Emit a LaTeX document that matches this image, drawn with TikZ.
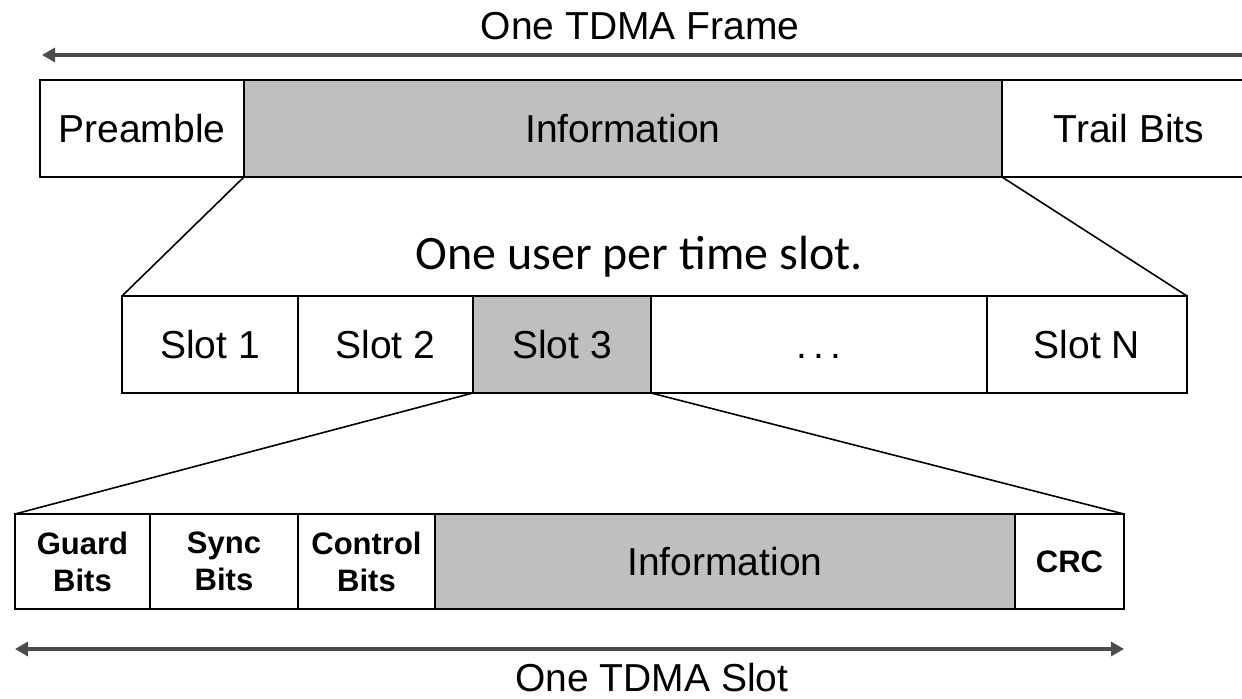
\documentclass[tikz,border=0pt]{standalone}
\usepackage{fontspec}
\setmainfont{Liberation Sans}
\newfontfamily\calibrifont{Carlito}
\usetikzlibrary{arrows.meta,shapes}

\begin{document}
\begin{tikzpicture}[x=0.5pt,y=-0.5pt]
                \tikzstyle{field}=[draw=black, line width=1pt, outer sep=0pt, inner sep=0pt, anchor=west, font=\fontsize{19.5}{22}\selectfont]
                \tikzstyle{shaded}=[field, fill=black!25]
                \tikzstyle{small}=[field, align=center, font=\fontsize{15.5}{18.5}\selectfont\bfseries]
                \tikzstyle{zoomline}=[line width=0.8pt]
                \tikzstyle{spanarrow}=[line width=1.6pt, draw=black!70, {Triangle[length=6.5pt,width=7pt]}-{Triangle[length=6.5pt,width=7pt]}]
                \useasboundingbox (0,0) rectangle (1242,699);

                % frame
                \node[field, minimum width=102pt, minimum height=48.5pt] (pre) at (40,128.5) {Preamble};
                \node[shaded, minimum width=379pt, minimum height=48.5pt] (info) at (pre.east) {Information};
                \node[field, minimum width=127pt, minimum height=48.5pt] (trail) at (info.east) {Trail Bits};

                % slots
                \node[field, minimum width=88pt, minimum height=48.5pt] (s1) at (122,344.5) {Slot 1};
                \node[field, minimum width=87.5pt, minimum height=48.5pt] (s2) at (s1.east) {Slot 2};
                \node[shaded, minimum width=89pt, minimum height=48.5pt] (s3) at (s2.east) {Slot 3};
                \node[field, minimum width=168pt, minimum height=48.5pt] (sdots) at (s3.east) {\vphantom{Slot}.\hspace{3pt}.\hspace{3pt}.};
                \node[field, minimum width=100pt, minimum height=48.5pt] (sN) at (sdots.east) {Slot N};

                % one slot
                \node[small, minimum width=67.5pt, minimum height=47.5pt] (guard) at (15,561.5) {Guard\\Bits};
                \node[small, minimum width=74pt, minimum height=47.5pt] (sync) at (guard.east) {Sync\\Bits};
                \node[small, minimum width=68.5pt, minimum height=47.5pt] (ctrl) at (sync.east) {Control\\Bits};
                \node[shaded, minimum width=290pt, minimum height=47.5pt] (sinfo) at (ctrl.east) {Information};
                \node[small, minimum width=54.5pt, minimum height=47.5pt] (crc) at (sinfo.east) {CRC};

                \draw[zoomline] (pre.south east) -- (s1.north west);
                \draw[zoomline] (info.south east) -- (sN.north east);
                \draw[zoomline] (s3.south west) -- (guard.north west);
                \draw[zoomline] (s3.south east) -- (crc.north east);

                \coordinate (FL) at (42,55);
                \coordinate (FR) at (1262,55);
                \coordinate (SL) at (15,649);
                \coordinate (SR) at (1124,649);
                \draw[spanarrow] (FL) -- (FR);
                \draw[spanarrow] (SL) -- (SR);

                \node[font=\fontsize{19.5}{22}\selectfont] (ftitle) at (640,26) {One TDMA Frame};
                \node[font=\calibrifont\fontsize{24}{27}\selectfont] (note) at (639,257) {One user per time slot.};
                \node[font=\fontsize{19.5}{22}\selectfont] (stitle) at (652,678) {One TDMA Slot};
\end{tikzpicture}
\end{document}
